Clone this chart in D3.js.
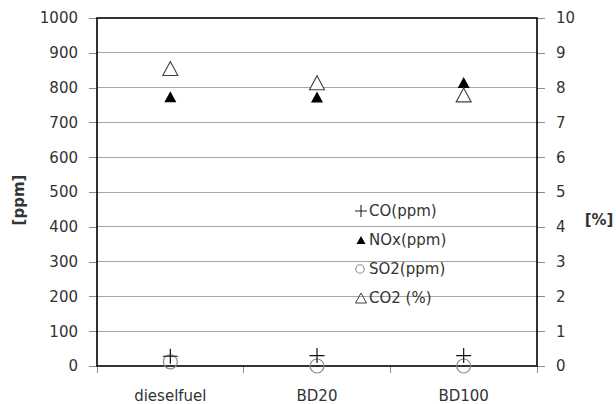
<!DOCTYPE html>
<html><head><meta charset="utf-8">
<script src="https://cdn.jsdelivr.net/npm/d3@7"></script>
<style>
body{margin:0;background:#fff;}
svg{display:block;font-family:"DejaVu Sans",sans-serif;}
</style></head>
<body><svg id="c" width="616" height="404"></svg>
<script>
const categories = ["dieselfuel", "BD20", "BD100"];
const coPpm = [28, 30, 30];
const noxPpm = [774, 773, 815];
const so2Ppm = [12, 0, 0];
const co2Pct = [8.55, 8.14, 7.79];
const leftTicks = [0,100,200,300,400,500,600,700,800,900,1000];
const rightTicks = [0,1,2,3,4,5,6,7,8,9,10];
const legendLabels = ["CO(ppm)", "NOx(ppm)", "SO2(ppm)", "CO2 (%)"];

const svg = d3.select("#c");
const L = 97, R = 537, T = 18, B = 366;
const x = d3.scaleBand().domain(categories).range([L, R]);
const y = d3.scaleLinear().domain([0, 1000]).range([B, T]);
const y2 = d3.scaleLinear().domain([0, 10]).range([B, T]);
const txt = "#333333";

// gridlines
svg.append("g").selectAll("line").data(leftTicks.filter(d => d > 0 && d < 1000)).join("line")
  .attr("x1", L).attr("x2", R).attr("y1", d => y(d)).attr("y2", d => y(d))
  .attr("stroke", "#a6a6a6").attr("stroke-width", 1).attr("shape-rendering", "crispEdges");

// left axis
const gl = svg.append("g").attr("transform", `translate(${L},0)`)
  .call(d3.axisLeft(y).tickValues(leftTicks).tickFormat(d3.format("d")).tickSize(8).tickPadding(11));
gl.select(".domain").remove();
gl.selectAll(".tick line").attr("stroke", "#8c8c8c").attr("shape-rendering", "crispEdges");
gl.selectAll(".tick text").attr("fill", txt).attr("font-size", 15).attr("font-family", "DejaVu Sans");

// right axis
const gr = svg.append("g").attr("transform", `translate(${R},0)`)
  .call(d3.axisRight(y2).tickValues(rightTicks).tickFormat(d3.format("d")).tickSize(8).tickPadding(11));
gr.select(".domain").remove();
gr.selectAll(".tick line").attr("stroke", "#8c8c8c").attr("shape-rendering", "crispEdges");
gr.selectAll(".tick text").attr("fill", txt).attr("font-size", 15).attr("font-family", "DejaVu Sans");

// bottom axis: ticks at category boundaries
const bounds = categories.map(c => x(c)).concat([R]);
svg.append("g").selectAll("line").data(bounds).join("line")
  .attr("x1", d => d).attr("x2", d => d).attr("y1", B).attr("y2", B + 7)
  .attr("stroke", "#8c8c8c").attr("shape-rendering", "crispEdges");
svg.append("g").selectAll("text").data(categories).join("text")
  .attr("x", d => x(d) + x.bandwidth() / 2).attr("y", 401)
  .attr("text-anchor", "middle").attr("fill", txt).attr("font-size", 15)
  .text(d => d);

// frame
svg.append("rect").attr("x", L).attr("y", T).attr("width", R - L).attr("height", B - T)
  .attr("fill", "none").attr("stroke", "#000").attr("stroke-width", 1.6);

// axis titles
svg.append("text").attr("transform", `translate(24,200) rotate(-90)`)
  .attr("text-anchor", "middle").attr("font-weight", "bold").attr("font-size", 15)
  .attr("fill", txt).text("[ppm]");
svg.append("text").attr("x", 599).attr("y", 225)
  .attr("text-anchor", "middle").attr("font-weight", "bold").attr("font-size", 15)
  .attr("fill", txt).text("[%]");

// marker helpers
function tri(cx, cy, w, h) {
  return `M${cx},${cy - h/2}L${cx + w/2},${cy + h/2}L${cx - w/2},${cy + h/2}Z`;
}
function plus(cx, cy, s) {
  return `M${cx - s},${cy}H${cx + s}M${cx},${cy - s}V${cy + s}`;
}
const cx = c => x(c) + x.bandwidth() / 2;

// SO2 circles
svg.append("g").selectAll("circle").data(categories).join("circle")
  .attr("cx", cx).attr("cy", (d, i) => y(so2Ppm[i])).attr("r", 7)
  .attr("fill", "none").attr("stroke", "#8c8c8c").attr("stroke-width", 1.2);
// CO plus
svg.append("g").selectAll("path").data(categories).join("path")
  .attr("d", (d, i) => plus(cx(d), y(coPpm[i]), 7.5))
  .attr("stroke", "#111").attr("stroke-width", 1.2).attr("fill", "none");
// NOx filled triangles
svg.append("g").selectAll("path").data(categories).join("path")
  .attr("d", (d, i) => tri(cx(d), y(noxPpm[i]), 12, 11))
  .attr("fill", "#000");
// CO2 open triangles
svg.append("g").selectAll("path").data(categories).join("path")
  .attr("d", (d, i) => tri(cx(d), y2(co2Pct[i]), 15, 14))
  .attr("fill", "#fff").attr("stroke", "#404040").attr("stroke-width", 1.1);

// legend
const lg = svg.append("g");
const lx = 361, ly0 = 211, ldy = 29;
legendLabels.forEach((lab, i) => {
  const yy = ly0 + i * ldy;
  if (i === 0) lg.append("path").attr("d", plus(lx, yy, 6)).attr("stroke", "#222").attr("stroke-width", 1.1);
  if (i === 1) lg.append("path").attr("d", tri(lx, yy, 9, 8)).attr("fill", "#000");
  if (i === 2) lg.append("circle").attr("cx", lx - 1).attr("cy", yy).attr("r", 4.2).attr("fill", "none").attr("stroke", "#8c8c8c").attr("stroke-width", 1.1);
  if (i === 3) lg.append("path").attr("d", tri(lx, yy, 11, 10)).attr("fill", "none").attr("stroke", "#404040").attr("stroke-width", 1);
  lg.append("text").attr("x", 369).attr("y", yy).attr("dy", "0.35em")
    .attr("font-size", 15).attr("fill", txt).text(lab);
});
</script></body></html>
